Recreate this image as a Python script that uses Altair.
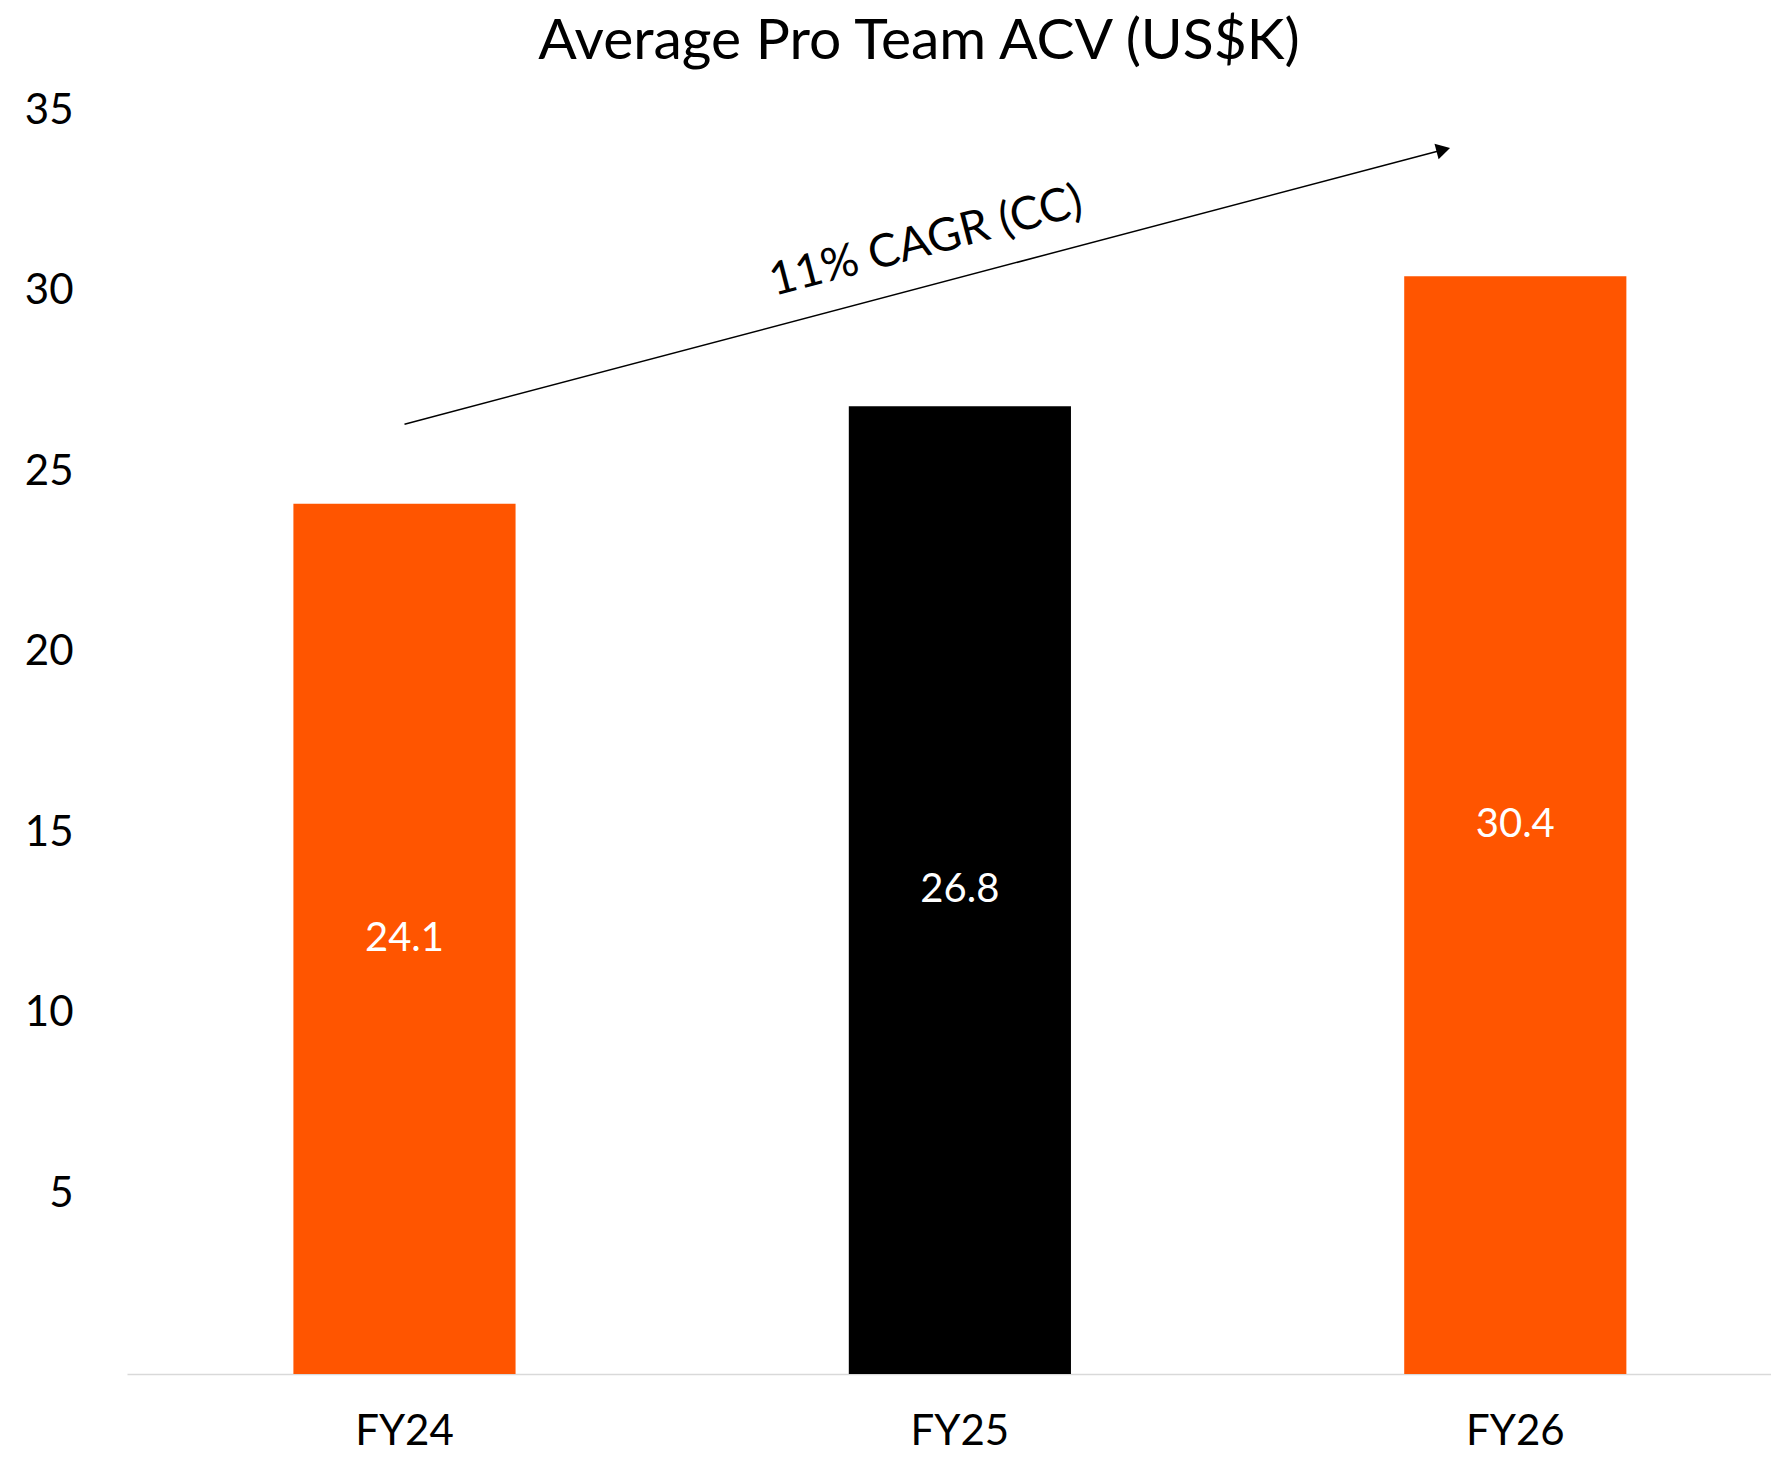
import altair as alt
import pandas as pd

years = ["FY24", "FY25", "FY26"]
values = [24.1, 26.8, 30.4]
colors = ["#FF5500", "#000000", "#FF5500"]
y_ticks = [5, 10, 15, 20, 25, 30, 35]

arrow_start = ["FY24", 26.3]
arrow_end = ["FY26", 33.9]
cagr_label = "11% CAGR (CC)"
cagr_pos = ["FY25", 31.6]

FONT = "Lato"

df = pd.DataFrame({"year": years, "value": values, "color": colors})
df["mid"] = df["value"] / 2
df["label"] = df["value"].map(lambda v: f"{v:.1f}")

x_scale = alt.Scale(domain=years, paddingInner=0.6, paddingOuter=0.28, align=0.535)
y_scale = alt.Scale(domain=[0, 35], nice=False)

x_enc = alt.X("year:N", scale=x_scale, sort=years,
              axis=alt.Axis(title=None, labelAngle=0, ticks=False, domain=True,
                            domainColor="#d9d9d9", domainWidth=1.5,
                            labelFontSize=42, labelFont=FONT, labelColor="#000000",
                            labelPadding=37, grid=False))
y_enc = alt.Y("value:Q", scale=y_scale,
              axis=alt.Axis(title=None, values=y_ticks, ticks=False, domain=False,
                            grid=False, labelFontSize=42, labelFont=FONT,
                            labelColor="#000000", labelPadding=54))

bars = alt.Chart(df).mark_bar().encode(
    x=x_enc, y=y_enc, color=alt.Color("color:N", scale=None)
)

labels = alt.Chart(df).mark_text(color="white", fontSize=40, font=FONT).encode(
    x=alt.X("year:N", scale=x_scale, sort=years),
    y=alt.Y("mid:Q", scale=y_scale),
    text="label:N",
)

arrow_df = pd.DataFrame({"x": [arrow_start[0]], "y": [arrow_start[1]],
                         "x2": [arrow_end[0]], "y2": [arrow_end[1]]})
arrow_line = alt.Chart(arrow_df).mark_rule(color="black", strokeWidth=1.5, x2Offset=-72).encode(
    x=alt.X("x:N", scale=x_scale, sort=years),
    x2="x2:N",
    y=alt.Y("y:Q", scale=y_scale),
    y2="y2:Q",
)
head_df = pd.DataFrame({"x": [arrow_end[0]], "y": [arrow_end[1]]})
arrow_head = alt.Chart(head_df).mark_point(
    shape="triangle-right", filled=True, color="black", size=260, angle=345.3,
    xOffset=-72, opacity=1,
).encode(
    x=alt.X("x:N", scale=x_scale, sort=years),
    y=alt.Y("y:Q", scale=y_scale),
)

cagr_df = pd.DataFrame({"x": [cagr_pos[0]], "y": [cagr_pos[1]], "t": [cagr_label]})
cagr = alt.Chart(cagr_df).mark_text(
    fontSize=46, font=FONT, color="black", angle=345.3, dx=-35
).encode(
    x=alt.X("x:N", scale=x_scale, sort=years),
    y=alt.Y("y:Q", scale=y_scale),
    text="t:N",
)

chart = alt.layer(bars, labels, arrow_line, arrow_head, cagr).properties(
    width=1644, height=1264,
    title=alt.TitleParams("Average Pro Team ACV (US$K)", fontSize=57, font=FONT,
                          fontWeight="normal", color="black", anchor="middle",
                          dx=-30, offset=18),
    autosize=alt.AutoSizeParams(type="none"),
    padding={"left": 119, "top": 102, "right": 0, "bottom": 83},
).configure_view(stroke=None)

chart.save("out.html", embed_options={"renderer": "svg", "actions": False})
